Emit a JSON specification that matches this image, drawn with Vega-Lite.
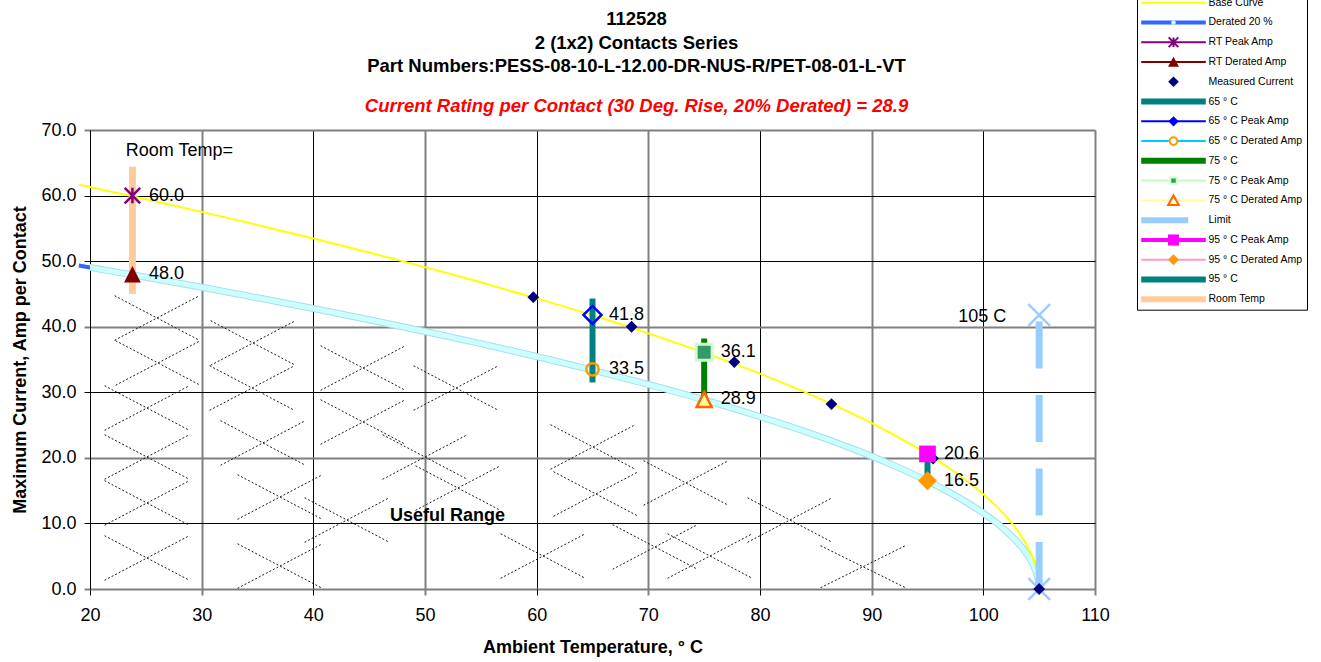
{
  "$schema": "https://vega.github.io/schema/vega-lite/v6.json",
  "width": 1005,
  "height": 459,
  "autosize": {"type": "none"},
  "padding": {"left": 90, "top": 130, "right": 226, "bottom": 73},
  "background": "white",
  "title": {
    "text": ["112528", "2 (1x2) Contacts Series", "Part Numbers:PESS-08-10-L-12.00-DR-NUS-R/PET-08-01-L-VT"],
    "subtitle": "Current Rating per Contact (30 Deg. Rise, 20% Derated)  = 28.9",
    "anchor": "middle",
    "frame": "group",
    "dx": 44,
    "dy": 129,
    "offset": 6,
    "font": "Liberation Sans",
    "fontSize": 18.5,
    "fontWeight": "bold",
    "lineHeight": 23.4,
    "color": "black",
    "subtitleFont": "Liberation Sans",
    "subtitleFontSize": 18.5,
    "subtitleFontWeight": "bold",
    "subtitleFontStyle": "italic",
    "subtitleColor": "#FF0000",
    "subtitlePadding": 21
  },
  "datasets": {
    "curve": [
      {"t": 19, "base": 61.67, "derated": 49.34},
      {"t": 20, "base": 61.30, "derated": 49.04},
      {"t": 25, "base": 59.43, "derated": 47.54},
      {"t": 30, "base": 57.51, "derated": 46.01},
      {"t": 35, "base": 55.52, "derated": 44.42},
      {"t": 40, "base": 53.46, "derated": 42.77},
      {"t": 45, "base": 51.32, "derated": 41.06},
      {"t": 50, "base": 49.09, "derated": 39.27},
      {"t": 55, "base": 46.77, "derated": 37.42},
      {"t": 60, "base": 44.32, "derated": 35.46},
      {"t": 65, "base": 41.74, "derated": 33.39},
      {"t": 70, "base": 38.99, "derated": 31.19},
      {"t": 75, "base": 36.04, "derated": 28.83},
      {"t": 80, "base": 32.84, "derated": 26.27},
      {"t": 85, "base": 29.31, "derated": 23.45},
      {"t": 88, "base": 26.97, "derated": 21.58},
      {"t": 90, "base": 25.31, "derated": 20.25},
      {"t": 92, "base": 23.52, "derated": 18.82},
      {"t": 95, "base": 20.58, "derated": 16.46},
      {"t": 97, "base": 18.37, "derated": 14.69},
      {"t": 99, "base": 15.86, "derated": 12.69},
      {"t": 100, "base": 14.45, "derated": 11.56},
      {"t": 101, "base": 12.90, "derated": 10.32},
      {"t": 102, "base": 11.14, "derated": 8.91},
      {"t": 103, "base": 9.06, "derated": 7.25},
      {"t": 103.5, "base": 7.82, "derated": 6.26},
      {"t": 104, "base": 6.36, "derated": 5.09},
      {"t": 104.4, "base": 4.90, "derated": 3.92},
      {"t": 104.7, "base": 3.44, "derated": 2.75},
      {"t": 104.9, "base": 1.97, "derated": 1.57},
      {"t": 105, "base": 0, "derated": 0}
    ],
    "hatch": [
      {"x": 22.2, "y": 44.73, "x2": 29.8, "y2": 37.93}, {"x": 22.2, "y": 37.93, "x2": 29.8, "y2": 44.73},
      {"x": 22.29, "y": 37.87, "x2": 29.89, "y2": 31.07}, {"x": 22.29, "y": 31.07, "x2": 29.89, "y2": 37.87},
      {"x": 21.3, "y": 31.0, "x2": 28.9, "y2": 24.2}, {"x": 21.3, "y": 24.2, "x2": 28.9, "y2": 31.0},
      {"x": 21.3, "y": 23.53, "x2": 28.9, "y2": 16.73}, {"x": 21.3, "y": 16.73, "x2": 28.9, "y2": 23.53},
      {"x": 21.3, "y": 16.52, "x2": 28.9, "y2": 9.72}, {"x": 21.3, "y": 9.72, "x2": 28.9, "y2": 16.52},
      {"x": 21.3, "y": 8.13, "x2": 28.9, "y2": 1.33}, {"x": 21.3, "y": 1.33, "x2": 28.9, "y2": 8.13},
      {"x": 30.8, "y": 40.92, "x2": 38.4, "y2": 34.12}, {"x": 30.8, "y": 34.12, "x2": 38.4, "y2": 40.92},
      {"x": 30.71, "y": 34.05, "x2": 38.31, "y2": 27.25}, {"x": 30.71, "y": 27.25, "x2": 38.31, "y2": 34.05},
      {"x": 31.69, "y": 25.67, "x2": 39.29, "y2": 18.87}, {"x": 31.69, "y": 18.87, "x2": 39.29, "y2": 25.67},
      {"x": 33.21, "y": 17.43, "x2": 40.81, "y2": 10.63}, {"x": 33.21, "y": 10.63, "x2": 40.81, "y2": 17.43},
      {"x": 33.21, "y": 6.9, "x2": 40.81, "y2": 0.1}, {"x": 33.21, "y": 0.1, "x2": 40.81, "y2": 6.9},
      {"x": 40.65, "y": 37.1, "x2": 48.25, "y2": 30.3}, {"x": 40.65, "y": 30.3, "x2": 48.25, "y2": 37.1},
      {"x": 40.65, "y": 28.87, "x2": 48.25, "y2": 22.07}, {"x": 40.65, "y": 22.07, "x2": 48.25, "y2": 28.87},
      {"x": 46.2, "y": 23.53, "x2": 53.8, "y2": 16.73}, {"x": 46.2, "y": 16.73, "x2": 53.8, "y2": 23.53},
      {"x": 39.21, "y": 13.92, "x2": 46.81, "y2": 7.12}, {"x": 39.21, "y": 7.12, "x2": 46.81, "y2": 13.92},
      {"x": 48.98, "y": 34.05, "x2": 56.58, "y2": 27.25}, {"x": 48.98, "y": 27.25, "x2": 56.58, "y2": 34.05},
      {"x": 49.15, "y": 18.8, "x2": 56.75, "y2": 12.0}, {"x": 49.15, "y": 12.0, "x2": 56.75, "y2": 18.8},
      {"x": 61.24, "y": 25.06, "x2": 68.84, "y2": 18.26}, {"x": 61.24, "y": 18.26, "x2": 68.84, "y2": 25.06},
      {"x": 61.51, "y": 17.89, "x2": 69.11, "y2": 11.09}, {"x": 61.51, "y": 11.09, "x2": 69.11, "y2": 17.89},
      {"x": 69.57, "y": 19.57, "x2": 77.17, "y2": 12.77}, {"x": 69.57, "y": 12.77, "x2": 77.17, "y2": 19.57},
      {"x": 78.88, "y": 13.92, "x2": 86.48, "y2": 7.12}, {"x": 78.88, "y": 7.12, "x2": 86.48, "y2": 13.92},
      {"x": 56.77, "y": 8.43, "x2": 64.37, "y2": 1.63}, {"x": 56.77, "y": 1.63, "x2": 64.37, "y2": 8.43},
      {"x": 66.8, "y": 9.81, "x2": 74.4, "y2": 3.01}, {"x": 66.8, "y": 3.01, "x2": 74.4, "y2": 9.81},
      {"x": 71.72, "y": 8.43, "x2": 79.32, "y2": 1.63}, {"x": 71.72, "y": 1.63, "x2": 79.32, "y2": 8.43},
      {"x": 85.42, "y": 6.6, "x2": 93.02, "y2": 0.2}, {"x": 85.42, "y": 0.2, "x2": 93.02, "y2": 6.6}
    ],
    "bars": [
      {"series": "Room Temp", "x": 23.8, "lo": 45.0, "hi": 64.4},
      {"series": "65 ° C", "x": 65, "lo": 31.5, "hi": 44.3},
      {"series": "75  ° C", "x": 75, "lo": 28.8, "hi": 38.2},
      {"series": "95  ° C", "x": 95, "lo": 16.5, "hi": 20.6}
    ],
    "limit": [{"series": "Limit", "x": 105, "lo": 0, "hi": 41.8}],
    "points": [
      {"series": "Limit", "x": 105, "y": 41.8},
      {"series": "Limit", "x": 105, "y": 0},
      {"series": "Measured Current", "x": 59.7, "y": 44.5},
      {"series": "Measured Current", "x": 68.5, "y": 40.0},
      {"series": "Measured Current", "x": 77.7, "y": 34.6},
      {"series": "Measured Current", "x": 86.4, "y": 28.2},
      {"series": "Measured Current", "x": 95.5, "y": 19.9},
      {"series": "Measured Current", "x": 105, "y": 0},
      {"series": "RT Peak Amp", "x": 23.8, "y": 60.0},
      {"series": "RT Derated Amp", "x": 23.8, "y": 48.0},
      {"series": "65  ° C Peak Amp", "x": 65, "y": 41.8},
      {"series": "65  ° C Derated Amp", "x": 65, "y": 33.5},
      {"series": "75  ° C Peak Amp", "x": 75, "y": 36.1},
      {"series": "75  ° C Derated Amp", "x": 75, "y": 28.9},
      {"series": "95  ° C Peak Amp", "x": 95, "y": 20.6},
      {"series": "95  ° C Derated Amp", "x": 95, "y": 16.5}
    ],
    "notes": [
      {"kind": "plain", "x": 23.2, "y": 66.0, "text": "Room Temp="},
      {"kind": "limit", "x": 97.76, "y": 41.5, "text": "105 C"},
      {"kind": "bold", "x": 46.87, "y": 11.18, "text": "Useful Range"}
    ],
    "legend": [
      {"series": "Base Curve"}, {"series": "Derated 20 %"}, {"series": "RT Peak Amp"}, {"series": "RT Derated Amp"},
      {"series": "Measured Current"}, {"series": "65 ° C"}, {"series": "65  ° C Peak Amp"}, {"series": "65  ° C Derated Amp"},
      {"series": "75  ° C"}, {"series": "75  ° C Peak Amp"}, {"series": "75  ° C Derated Amp"}, {"series": "Limit"},
      {"series": "95  ° C Peak Amp"}, {"series": "95  ° C Derated Amp"}, {"series": "95  ° C"}, {"series": "Room Temp"}
    ]
  },
  "layer": [
    {
      "data": {"name": "hatch"},
      "mark": {"type": "rule", "stroke": "#1a1a1a", "strokeWidth": 1, "strokeDash": [2, 2]},
      "encoding": {
        "x": {
          "field": "x", "type": "quantitative",
          "scale": {"domain": [20, 110], "nice": false, "zero": false},
          "axis": {
            "title": "Ambient Temperature,  ° C",
            "values": [20, 30, 40, 50, 60, 70, 80, 90, 100, 110],
            "labelFlush": false, "labelOverlap": false,
            "labelPadding": 11, "titlePadding": 14,
            "domain": false,
            "gridColor": {"condition": {"test": "datum.value % 20 === 0", "value": "black"}, "value": "#808080"},
            "gridWidth": {"condition": {"test": "datum.value % 20 === 0", "value": 1}, "value": 2},
            "tickColor": {"condition": {"test": "datum.value % 20 === 0", "value": "black"}, "value": "#808080"},
            "tickWidth": {"condition": {"test": "datum.value % 20 === 0", "value": 1}, "value": 2}
          }
        },
        "y": {
          "field": "y", "type": "quantitative",
          "scale": {"domain": [0, 70], "nice": false, "zero": false},
          "axis": {
            "title": "Maximum Current, Amp per Contact",
            "values": [0, 10, 20, 30, 40, 50, 60, 70],
            "format": ".1f",
            "labelFlush": false, "labelOverlap": false,
            "labelPadding": 8, "titlePadding": 11,
            "domain": true, "domainColor": "black", "domainWidth": 1,
            "gridColor": {"condition": {"test": "datum.value === 10 || datum.value === 30 || datum.value === 50 || datum.value === 60", "value": "black"}, "value": "#808080"},
            "gridWidth": {"condition": {"test": "datum.value === 10 || datum.value === 30 || datum.value === 50 || datum.value === 60", "value": 1}, "value": 2},
            "tickColor": {"condition": {"test": "datum.value === 10 || datum.value === 30 || datum.value === 50 || datum.value === 60", "value": "black"}, "value": "#808080"},
            "tickWidth": {"condition": {"test": "datum.value === 10 || datum.value === 30 || datum.value === 50 || datum.value === 60", "value": 1}, "value": 2}
          }
        },
        "x2": {"field": "x2"},
        "y2": {"field": "y2"}
      }
    },
    {
      "data": {"name": "curve"},
      "mark": {"type": "line", "stroke": "#3366FF", "strokeWidth": 4, "interpolate": "monotone"},
      "encoding": {"x": {"field": "t", "type": "quantitative"}, "y": {"field": "derated", "type": "quantitative"}}
    },
    {
      "data": {"name": "curve"},
      "mark": {"type": "line", "stroke": "#A8DDF0", "strokeWidth": 7, "interpolate": "monotone", "clip": true},
      "encoding": {"x": {"field": "t", "type": "quantitative"}, "y": {"field": "derated", "type": "quantitative"}}
    },
    {
      "data": {"name": "curve"},
      "mark": {"type": "line", "stroke": "#CCFFFF", "strokeWidth": 5, "interpolate": "monotone", "clip": true},
      "encoding": {"x": {"field": "t", "type": "quantitative"}, "y": {"field": "derated", "type": "quantitative"}}
    },
    {
      "data": {"name": "curve"},
      "mark": {"type": "line", "stroke": "#FFFF00", "strokeWidth": 2, "interpolate": "monotone"},
      "encoding": {"x": {"field": "t", "type": "quantitative"}, "y": {"field": "base", "type": "quantitative"}}
    },
    {
      "data": {"name": "bars"},
      "transform": [{"filter": "datum.series === 'Room Temp'"}],
      "mark": {"type": "rule", "stroke": "#FFCC99", "strokeWidth": 7},
      "encoding": {"x": {"field": "x", "type": "quantitative"}, "y": {"field": "lo", "type": "quantitative"}, "y2": {"field": "hi"}}
    },
    {
      "data": {"name": "bars"},
      "transform": [{"filter": "datum.series === '65 ° C' || datum.series === '95  ° C'"}],
      "mark": {"type": "rule", "stroke": "#008080", "strokeWidth": 6},
      "encoding": {"x": {"field": "x", "type": "quantitative"}, "y": {"field": "lo", "type": "quantitative"}, "y2": {"field": "hi"}}
    },
    {
      "data": {"name": "bars"},
      "transform": [{"filter": "datum.series === '75  ° C'"}],
      "mark": {"type": "rule", "stroke": "#008000", "strokeWidth": 6},
      "encoding": {"x": {"field": "x", "type": "quantitative"}, "y": {"field": "lo", "type": "quantitative"}, "y2": {"field": "hi"}}
    },
    {
      "data": {"name": "limit"},
      "mark": {"type": "rule", "stroke": "#99CCFF", "strokeWidth": 7, "strokeDash": [47, 26.5]},
      "encoding": {"x": {"field": "x", "type": "quantitative"}, "y": {"field": "lo", "type": "quantitative"}, "y2": {"field": "hi"}}
    },
    {
      "data": {"name": "points"},
      "transform": [{"filter": "datum.series === 'Limit'"}],
      "mark": {"type": "point", "shape": "M-1,-1L1,1M-1,1L1,-1", "size": 471, "filled": false, "stroke": "#99CCFF", "strokeWidth": 2.5, "opacity": 1},
      "encoding": {"x": {"field": "x", "type": "quantitative"}, "y": {"field": "y", "type": "quantitative"}}
    },
    {
      "data": {"name": "points"},
      "transform": [{"filter": "datum.series === 'Measured Current'"}],
      "mark": {"type": "point", "shape": "diamond", "size": 140, "filled": true, "fill": "#000080", "strokeWidth": 0, "opacity": 1},
      "encoding": {"x": {"field": "x", "type": "quantitative"}, "y": {"field": "y", "type": "quantitative"}}
    },
    {
      "data": {"name": "points"},
      "transform": [{"filter": "datum.series === 'RT Peak Amp'"}],
      "mark": {"type": "point", "shape": "M-1,-1L1,1M-1,1L1,-1M0,-1L0,1", "size": 240, "filled": false, "stroke": "#800080", "strokeWidth": 2.5, "opacity": 1},
      "encoding": {"x": {"field": "x", "type": "quantitative"}, "y": {"field": "y", "type": "quantitative"}}
    },
    {
      "data": {"name": "points"},
      "transform": [{"filter": "datum.series === 'RT Derated Amp'"}],
      "mark": {"type": "point", "shape": "M0,-1L1,1L-1,1Z", "size": 279, "filled": true, "fill": "#800000", "strokeWidth": 0, "opacity": 1},
      "encoding": {"x": {"field": "x", "type": "quantitative"}, "y": {"field": "y", "type": "quantitative"}}
    },
    {
      "data": {"name": "points"},
      "transform": [{"filter": "datum.series === '65  ° C Peak Amp'"}],
      "mark": {"type": "point", "shape": "diamond", "size": 324, "filled": false, "stroke": "#0000FF", "strokeWidth": 2.5, "opacity": 1},
      "encoding": {"x": {"field": "x", "type": "quantitative"}, "y": {"field": "y", "type": "quantitative"}}
    },
    {
      "data": {"name": "points"},
      "transform": [{"filter": "datum.series === '65  ° C Derated Amp'"}],
      "mark": {"type": "point", "shape": "circle", "size": 154, "filled": false, "stroke": "#FF9900", "strokeWidth": 2.5, "opacity": 1},
      "encoding": {"x": {"field": "x", "type": "quantitative"}, "y": {"field": "y", "type": "quantitative"}}
    },
    {
      "data": {"name": "points"},
      "transform": [{"filter": "datum.series === '75  ° C Peak Amp'"}],
      "mark": {"type": "point", "shape": "square", "size": 256, "filled": true, "fill": "#339966", "stroke": "#CCFFCC", "strokeWidth": 3, "opacity": 1},
      "encoding": {"x": {"field": "x", "type": "quantitative"}, "y": {"field": "y", "type": "quantitative"}}
    },
    {
      "data": {"name": "points"},
      "transform": [{"filter": "datum.series === '75  ° C Derated Amp'"}],
      "mark": {"type": "point", "shape": "M0,-1L1,1L-1,1Z", "size": 225, "filled": true, "fill": "#FFFF99", "stroke": "#FF6600", "strokeWidth": 2.5, "opacity": 1},
      "encoding": {"x": {"field": "x", "type": "quantitative"}, "y": {"field": "y", "type": "quantitative"}}
    },
    {
      "data": {"name": "points"},
      "transform": [{"filter": "datum.series === '95  ° C Peak Amp'"}],
      "mark": {"type": "point", "shape": "square", "size": 279, "filled": true, "fill": "#FF00FF", "strokeWidth": 0, "opacity": 1},
      "encoding": {"x": {"field": "x", "type": "quantitative"}, "y": {"field": "y", "type": "quantitative"}}
    },
    {
      "data": {"name": "points"},
      "transform": [{"filter": "datum.series === '95  ° C Derated Amp'"}],
      "mark": {"type": "point", "shape": "diamond", "size": 361, "filled": true, "fill": "#FF9900", "strokeWidth": 0, "opacity": 1},
      "encoding": {"x": {"field": "x", "type": "quantitative"}, "y": {"field": "y", "type": "quantitative"}}
    },
    {
      "data": {"name": "points"},
      "transform": [{"filter": "datum.series !== 'Limit' && datum.series !== 'Measured Current'"}],
      "mark": {"type": "text", "align": "left", "baseline": "middle", "dx": 16.5, "font": "Liberation Sans", "fontSize": 18, "color": "black"},
      "encoding": {"x": {"field": "x", "type": "quantitative"}, "y": {"field": "y", "type": "quantitative"}, "text": {"field": "y", "type": "quantitative", "format": ".1f"}}
    },
    {
      "data": {"name": "notes"},
      "transform": [{"filter": "datum.kind === 'plain'"}],
      "mark": {"type": "text", "align": "left", "baseline": "alphabetic", "font": "Liberation Sans", "fontSize": 18, "color": "black"},
      "encoding": {"x": {"field": "x", "type": "quantitative"}, "y": {"field": "y", "type": "quantitative"}, "text": {"field": "text"}}
    },
    {
      "data": {"name": "notes"},
      "transform": [{"filter": "datum.kind === 'limit'"}],
      "mark": {"type": "text", "align": "left", "baseline": "middle", "font": "Liberation Sans", "fontSize": 18, "color": "black"},
      "encoding": {"x": {"field": "x", "type": "quantitative"}, "y": {"field": "y", "type": "quantitative"}, "text": {"field": "text"}}
    },
    {
      "data": {"name": "notes"},
      "transform": [{"filter": "datum.kind === 'bold'"}],
      "mark": {"type": "text", "align": "left", "baseline": "middle", "font": "Liberation Sans", "fontSize": 18, "fontWeight": "bold", "color": "black"},
      "encoding": {"x": {"field": "x", "type": "quantitative"}, "y": {"field": "y", "type": "quantitative"}, "text": {"field": "text"}}
    },
    {
      "data": {"name": "legend"},
      "mark": {"type": "point", "opacity": 0, "filled": true},
      "encoding": {
        "fill": {
          "field": "series", "type": "nominal",
          "scale": {
            "domain": ["Base Curve", "Derated 20 %", "RT Peak Amp", "RT Derated Amp", "Measured Current", "65 ° C", "65  ° C Peak Amp", "65  ° C Derated Amp", "75  ° C", "75  ° C Peak Amp", "75  ° C Derated Amp", "Limit", "95  ° C Peak Amp", "95  ° C Derated Amp", "95  ° C", "Room Temp"],
            "range": ["#FFFF00", "#3366FF", "#800080", "#800000", "transparent", "#008080", "#0000FF", "#00CCFF", "#008000", "#CCFFCC", "#FFFF99", "#99CCFF", "#FF00FF", "#FF99CC", "#008080", "#FFCC99"]
          },
          "legend": {
            "title": null, "orient": "none", "legendX": 1047, "legendY": -137.3,
            "padding": 1, "rowPadding": 1.77, "clipHeight": 18,
            "symbolSize": 4173, "symbolStrokeWidth": 0, "symbolOffset": 3,
            "symbolFillColor": "transparent", "symbolStrokeColor": "transparent",
            "strokeColor": "black",
            "labelFont": "Liberation Sans", "labelFontSize": 10.5, "labelColor": "black", "labelOffset": 2.5, "labelLimit": 300
          }
        },
        "shape": {
          "field": "series", "type": "nominal",
          "scale": {
            "domain": ["Base Curve", "Derated 20 %", "RT Peak Amp", "RT Derated Amp", "Measured Current", "65 ° C", "65  ° C Peak Amp", "65  ° C Derated Amp", "75  ° C", "75  ° C Peak Amp", "75  ° C Derated Amp", "Limit", "95  ° C Peak Amp", "95  ° C Derated Amp", "95  ° C", "Room Temp"],
            "range": ["M-1,-0.031H1V0.031H-1Z", "M-1,-0.062H1V0.062H-1Z", "M-1,-0.031H1V0.031H-1Z", "M-1,-0.031H1V0.031H-1Z", "M0,0", "M-1,-0.093H1V0.093H-1Z", "M-1,-0.031H1V0.031H-1Z", "M-1,-0.031H1V0.031H-1Z", "M-1,-0.093H1V0.093H-1Z", "M-1,-0.046H1V0.046H-1Z", "M-1,-0.031H1V0.031H-1Z", "M-1,-0.093H0.455V0.093H-1Z", "M-1,-0.062H1V0.062H-1Z", "M-1,-0.031H1V0.031H-1Z", "M-1,-0.093H1V0.093H-1Z", "M-1,-0.093H1V0.093H-1Z"]
          },
          "legend": {
            "title": null, "orient": "none", "legendX": 1047, "legendY": -137.3,
            "padding": 1, "rowPadding": 1.77, "clipHeight": 18,
            "symbolSize": 4173, "symbolStrokeWidth": 0, "symbolOffset": 3,
            "symbolFillColor": "transparent", "symbolStrokeColor": "transparent",
            "strokeColor": "black",
            "labelFont": "Liberation Sans", "labelFontSize": 10.5, "labelColor": "black", "labelOffset": 2.5, "labelLimit": 300
          }
        }
      }
    },
    {
      "data": {"name": "legend"},
      "mark": {"type": "point", "opacity": 0, "filled": true},
      "encoding": {
        "fill": {
          "field": "series", "type": "nominal",
          "scale": {
            "domain": ["Base Curve", "Derated 20 %", "RT Peak Amp", "RT Derated Amp", "Measured Current", "65 ° C", "65  ° C Peak Amp", "65  ° C Derated Amp", "75  ° C", "75  ° C Peak Amp", "75  ° C Derated Amp", "Limit", "95  ° C Peak Amp", "95  ° C Derated Amp", "95  ° C", "Room Temp"],
            "range": ["transparent", "#CCFFFF", "transparent", "#800000", "#000080", "transparent", "#0000FF", "#FFFFFF", "transparent", "#339966", "#FFFFCC", "transparent", "#FF00FF", "#FF9900", "transparent", "transparent"]
          },
          "legend": {
            "title": null, "orient": "none", "legendX": 1047, "legendY": -137.3,
            "padding": 1, "rowPadding": 1.77, "clipHeight": 18,
            "symbolSize": 4173, "symbolStrokeWidth": 2, "symbolOffset": 2,
            "symbolFillColor": "transparent", "symbolStrokeColor": "transparent",
            "labelFont": "Liberation Sans", "labelFontSize": 10.5, "labelOpacity": 0, "labelOffset": 2.5
          }
        },
        "stroke": {
          "field": "series", "type": "nominal",
          "scale": {
            "domain": ["Base Curve", "Derated 20 %", "RT Peak Amp", "RT Derated Amp", "Measured Current", "65 ° C", "65  ° C Peak Amp", "65  ° C Derated Amp", "75  ° C", "75  ° C Peak Amp", "75  ° C Derated Amp", "Limit", "95  ° C Peak Amp", "95  ° C Derated Amp", "95  ° C", "Room Temp"],
            "range": ["transparent", "transparent", "#800080", "transparent", "transparent", "transparent", "transparent", "#FF9900", "transparent", "#CCFFCC", "#FF6600", "transparent", "transparent", "transparent", "transparent", "transparent"]
          },
          "legend": {
            "title": null, "orient": "none", "legendX": 1047, "legendY": -137.3,
            "padding": 1, "rowPadding": 1.77, "clipHeight": 18,
            "symbolSize": 4173, "symbolStrokeWidth": 2, "symbolOffset": 2,
            "symbolFillColor": "transparent", "symbolStrokeColor": "transparent",
            "labelFont": "Liberation Sans", "labelFontSize": 10.5, "labelOpacity": 0, "labelOffset": 2.5
          }
        },
        "shape": {
          "field": "series", "type": "nominal",
          "scale": {
            "domain": ["Base Curve", "Derated 20 %", "RT Peak Amp", "RT Derated Amp", "Measured Current", "65 ° C", "65  ° C Peak Amp", "65  ° C Derated Amp", "75  ° C", "75  ° C Peak Amp", "75  ° C Derated Amp", "Limit", "95  ° C Peak Amp", "95  ° C Derated Amp", "95  ° C", "Room Temp"],
            "range": ["M0,0", "M0.07,0A0.07,0.07,0,1,1,-0.07,0A0.07,0.07,0,1,1,0.07,0Z", "M-0.15,-0.15L0.15,0.15M-0.15,0.15L0.15,-0.15M0,-0.15L0,0.15", "M0,-0.16L0.17,0.15L-0.17,0.15Z", "M0,-0.165L0.165,0L0,0.165L-0.165,0Z", "M0,0", "M0,-0.16L0.16,0L0,0.16L-0.16,0Z", "M0.12,0A0.12,0.12,0,1,1,-0.12,0A0.12,0.12,0,1,1,0.12,0Z", "M0,0", "M-0.1,-0.1H0.1V0.1H-0.1Z", "M0,-0.155L0.165,0.14L-0.165,0.14Z", "M0,0", "M-0.17,-0.17H0.17V0.17H-0.17Z", "M0,-0.17L0.17,0L0,0.17L-0.17,0Z", "M0,0", "M0,0"]
          },
          "legend": {
            "title": null, "orient": "none", "legendX": 1047, "legendY": -137.3,
            "padding": 1, "rowPadding": 1.77, "clipHeight": 18,
            "symbolSize": 4173, "symbolStrokeWidth": 2, "symbolOffset": 2,
            "symbolFillColor": "transparent", "symbolStrokeColor": "transparent",
            "labelFont": "Liberation Sans", "labelFontSize": 10.5, "labelOpacity": 0, "labelOffset": 2.5
          }
        }
      }
    }
  ],
  "resolve": {"scale": {"fill": "independent", "stroke": "independent", "shape": "independent"}},
  "config": {
    "font": "Liberation Sans",
    "view": {"stroke": null},
    "axis": {
      "labelFont": "Liberation Sans",
      "labelFontSize": 18,
      "labelColor": "black",
      "titleFont": "Liberation Sans",
      "titleFontSize": 18,
      "titleFontWeight": "bold",
      "titleColor": "black",
      "tickSize": 6,
      "grid": true
    }
  }
}
